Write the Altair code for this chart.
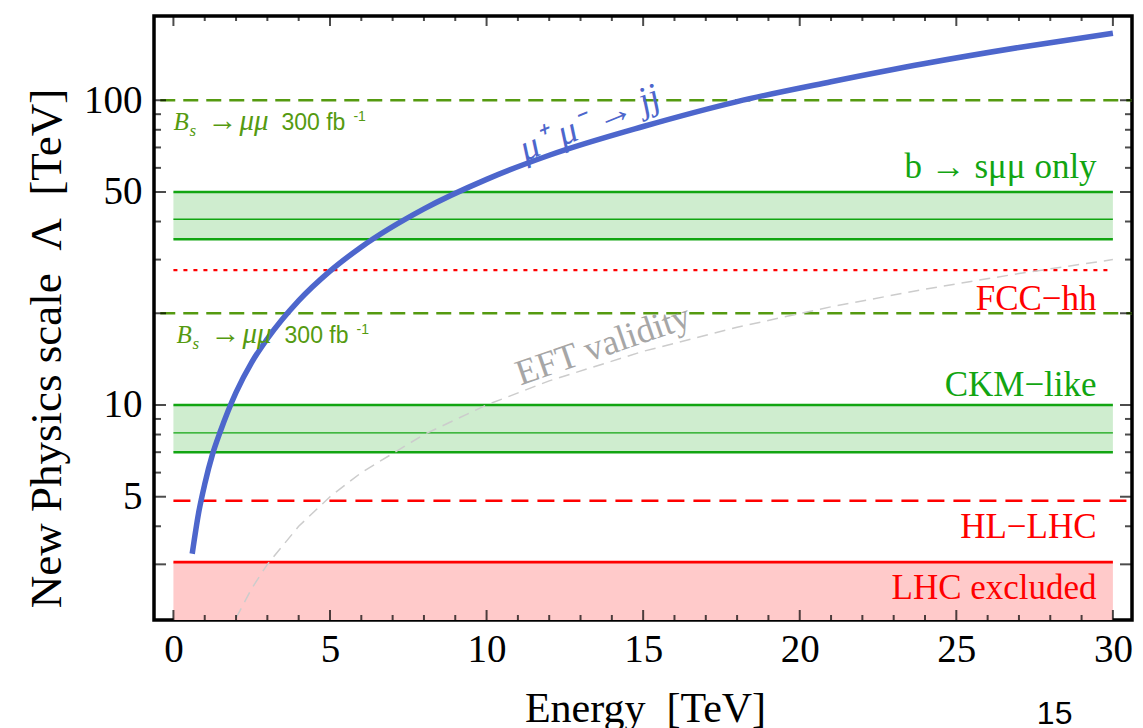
import altair as alt
import pandas as pd

# ---------------- data ----------------
# mu+ mu- -> jj reach (blue curve)
curve_energy = [0.6, 0.8, 1.0, 1.25, 1.5, 2.0, 2.5, 3.0, 4.0, 5.0, 6.0, 8.0, 10.0, 12.0, 15.0, 18.0, 21.0, 24.0, 27.0, 30.0]
curve_lambda = [3.25, 4.4, 5.5, 6.9, 8.2, 11.0, 13.8, 16.5, 22.0, 27.5, 33.0, 44.0, 55.0, 66.0, 82.0, 99.0, 115.0, 132.0, 149.0, 166.0]

# EFT validity (grey dashed curve)
eft_energy = [2.0, 2.5, 3.0, 4.0, 5.0, 6.0, 8.0, 10.0, 12.0, 15.0, 18.0, 21.0, 24.0, 27.0, 30.0]
eft_lambda = [2.0, 2.5, 3.0, 4.0, 5.0, 6.0, 8.0, 10.0, 12.0, 15.0, 18.0, 21.0, 24.0, 27.0, 30.0]

# shaded bands
red_band_low = [1.97]
red_band_high = [3.05]
green_band_low = [7.0, 35.0]
green_band_high = [10.0, 50.0]
band_start = 0
band_end = 30

# band edge lines and central lines
red_edges = [3.05]
green_edges = [7.0, 10.0, 35.0, 50.0]
green_mids = [8.1, 40.7]

# horizontal reference lines
bs_values = [100.0, 20.0]          # Bs -> mu mu 300 fb-1 (olive dashed)
fcc_value = [27.7]                 # FCC-hh (red dotted)
hl_value = [4.85]                  # HL-LHC (red dashed)

# right-hand labels
green_label_text = ["b \u2192 s\u03bc\u03bc only", "CKM\u2212like"]
green_label_lambda = [55.5, 10.7]
red_label_text = ["FCC\u2212hh", "HL\u2212LHC", "LHC excluded"]
red_label_lambda = [20.5, 3.66, 2.31]
label_energy = 29.48

# Bs labels (anchor energy, baseline Lambda)
bs_label_lambda = [79.7, 15.97]
bs_label_energy = [0.0, 0.1]

# tick values
x_major = [0, 5, 10, 15, 20, 25, 30]
x_minor = [v for v in range(0, 31) if v % 5 != 0]
y_labels = [5, 10, 50, 100]
y_major = [3, 5, 10, 20, 50, 100]
y_minor = [4, 6, 7, 8, 9, 30, 40, 60, 70, 80, 90]

# ---------------- styling ----------------
W, H = 978, 604
X_DOM = [-0.62, 30.61]
Y_DOM = [1.97, 189]
SERIF = "Liberation Serif"
SANS = "Liberation Sans"
BLUE = "#4d66cc"
GREEN = "#12a512"
LIGHTGREEN = "#cfedcf"
OLIVE = "#559a10"
RED = "#ff0000"
PINK = "#ffcaca"
GREY = "#cccccc"

xs = alt.Scale(domain=X_DOM, nice=False, zero=False)
ys = alt.Scale(type="log", domain=Y_DOM, nice=False)


def band(lows, highs, color):
    df = pd.DataFrame({"lo": lows, "hi": highs, "x0": band_start, "x1": band_end})
    return alt.Chart(df).mark_rect(color=color).encode(
        x=alt.X("x0:Q", scale=xs, axis=None), x2="x1:Q",
        y=alt.Y("lo:Q", scale=ys, axis=None), y2="hi:Q")


def hrule(values, x0, x1, **style):
    df = pd.DataFrame({"v": values, "x0": x0, "x1": x1})
    return alt.Chart(df).mark_rule(**style).encode(
        x=alt.X("x0:Q", scale=xs, axis=None), x2="x1:Q",
        y=alt.Y("v:Q", scale=ys, axis=None))


fills = [band(red_band_low, red_band_high, PINK), band(green_band_low, green_band_high, LIGHTGREEN)]
rules = [
    hrule(red_edges, 0, 30, color=RED, strokeWidth=2.6),
    hrule(green_edges, 0, 30, color=GREEN, strokeWidth=2.6),
    hrule(green_mids, 0, 30, color=GREEN, strokeWidth=1.4),
    hrule(bs_values, X_DOM[0] + 0.2, X_DOM[1], color=OLIVE, strokeWidth=2.6, strokeDash=[15, 8]),
    hrule(fcc_value, 0, 30, color=RED, strokeWidth=2.2, strokeDash=[4, 6]),
    hrule(hl_value, 0, X_DOM[1], color=RED, strokeWidth=2.4, strokeDash=[17, 9]),
]

eft_df = pd.DataFrame({"E": eft_energy, "L": eft_lambda})
eft_line = alt.Chart(eft_df).mark_line(color=GREY, strokeWidth=1.5, strokeDash=[11, 7], clip=True).encode(
    x=alt.X("E:Q", scale=xs, axis=None), y=alt.Y("L:Q", scale=ys, axis=None),
)

curve_df = pd.DataFrame({"E": curve_energy, "L": curve_lambda})
curve = alt.Chart(curve_df).mark_line(color=BLUE, strokeWidth=5.5, interpolate="monotone").encode(
    x=alt.X("E:Q", scale=xs, axis=None), y=alt.Y("L:Q", scale=ys, axis=None),
)


def right_labels(texts, lambdas, color):
    df = pd.DataFrame({"t": texts, "L": lambdas, "E": label_energy})
    return alt.Chart(df).mark_text(align="right", baseline="alphabetic", font=SERIF, fontSize=35,
                                   color=color).encode(
        x=alt.X("E:Q", scale=xs, axis=None), y=alt.Y("L:Q", scale=ys, axis=None), text="t:N")


labels = [right_labels(green_label_text, green_label_lambda, GREEN),
          right_labels(red_label_text, red_label_lambda, RED)]

# Bs -> mu mu 300 fb-1 labels (built from pieces)
bsl = pd.DataFrame({"E": bs_label_energy, "L": bs_label_lambda})


def bs_piece(text, dx, dy, size, font, style):
    kw = dict(align="left", baseline="alphabetic", font=font, fontSize=size, color=OLIVE,
              dx=dx, dy=dy, text=text)
    if style:
        kw["fontStyle"] = style
    return alt.Chart(bsl).mark_text(**kw).encode(
        x=alt.X("E:Q", scale=xs, axis=None), y=alt.Y("L:Q", scale=ys, axis=None))


bs_labels = [
    bs_piece("B", 0, 0, 25, SERIF, "italic"),
    bs_piece("s", 16, 6, 17, SERIF, "italic"),
    bs_piece("\u2192", 34, 0, 30, SERIF, None),
    bs_piece("\u03bc\u03bc", 66, 0, 29, SERIF, "italic"),
    bs_piece("300 fb", 108, 0, 23, SANS, None),
    bs_piece("-1", 180, -9, 14, SANS, None),
]

# curve labels
mm_df = pd.DataFrame({"E": [13.3], "L": [84.0], "t": ["\u03bc\u207a \u03bc\u207b \u2192 jj"]})
mm_label = alt.Chart(mm_df).mark_text(font=SERIF, fontStyle="italic", fontSize=37, color=BLUE,
                                      angle=338, align="center", baseline="middle").encode(
    x=alt.X("E:Q", scale=xs, axis=None), y=alt.Y("L:Q", scale=ys, axis=None), text="t:N")
eft_lab_df = pd.DataFrame({"E": [13.72], "L": [15.7], "t": ["EFT validity"]})
eft_label = alt.Chart(eft_lab_df).mark_text(font=SERIF, fontSize=36, color="#a6a6a6",
                                            angle=341, align="center", baseline="middle").encode(
    x=alt.X("E:Q", scale=xs, axis=None), y=alt.Y("L:Q", scale=ys, axis=None), text="t:N")

# slide page number
page_df = pd.DataFrame({"E": [28.14], "L": [0.90], "t": ["15"]})
page = alt.Chart(page_df).mark_text(font=SANS, fontSize=32, color="black", align="center",
                                    baseline="alphabetic", clip=False).encode(
    x=alt.X("E:Q", scale=xs, axis=None), y=alt.Y("L:Q", scale=ys, axis=None), text="t:N")

# ---------------- axes: labels + frame ticks drawn inward ----------------
anchor = pd.DataFrame({"x": [10.0], "y": [10.0]})
main_axes = alt.Chart(anchor).mark_point(opacity=0).encode(
    x=alt.X("x:Q", scale=xs, axis=alt.Axis(
        orient="bottom", values=x_major, format="d", ticks=False, domain=False, grid=False,
        labelFont=SERIF, labelFontSize=39, labelColor="black", labelPadding=10,
        title="Energy\u2002[TeV]", titleFont=SERIF, titleFontSize=42, titleFontWeight="normal",
        titleColor="black", titleX=491, titleY=101, titleBaseline="alphabetic", titleAnchor="start",
        titleAlign="center")),
    y=alt.Y("y:Q", scale=ys, axis=alt.Axis(
        orient="left", values=y_labels, labelExpr="datum.value", ticks=False, domain=False, grid=False,
        labelFont=SERIF, labelFontSize=39, labelColor="black", labelPadding=12,
        title="New Physics scale\u2002\u039b\u2002[TeV]", titleFont=SERIF, titleFontSize=45,
        titleFontWeight="normal", titleColor="black", titleX=-94, titleY=332,
        titleBaseline="alphabetic", titleAlign="center", titleAngle=270)),
)


def xticks(values, length, top):
    df = pd.DataFrame({"v": values})
    ypix = length / 2 if top else H - length / 2
    return alt.Chart(df).mark_tick(color="black", thickness=2, size=length, orient="vertical").encode(
        x=alt.X("v:Q", scale=xs, axis=None), y=alt.value(ypix))


def yticks(values, length, right):
    df = pd.DataFrame({"v": values})
    xpix = W - length / 2 if right else length / 2
    return alt.Chart(df).mark_tick(color="black", thickness=2, size=length, orient="horizontal").encode(
        y=alt.Y("v:Q", scale=ys, axis=None), x=alt.value(xpix))


ticks = [
    xticks(x_major, 10, False), xticks(x_minor, 5, False),
    xticks(x_major, 10, True), xticks(x_minor, 5, True),
    yticks(y_major, 12, False), yticks(y_minor, 7, False),
    yticks(y_major, 12, True), yticks(y_minor, 7, True),
]

chart = alt.layer(
    *fills, *rules, eft_line, curve,
    *labels, *bs_labels, mm_label, eft_label, page,
    *ticks, main_axes,
).resolve_axis(x="independent", y="independent").properties(
    width=W, height=H, autosize="none",
    padding={"left": 154, "top": 16, "right": 11, "bottom": 108},
    background="white",
).configure_view(stroke="black", strokeWidth=3.5)

chart.save("out.html", embed_options={"renderer": "svg", "actions": False})
